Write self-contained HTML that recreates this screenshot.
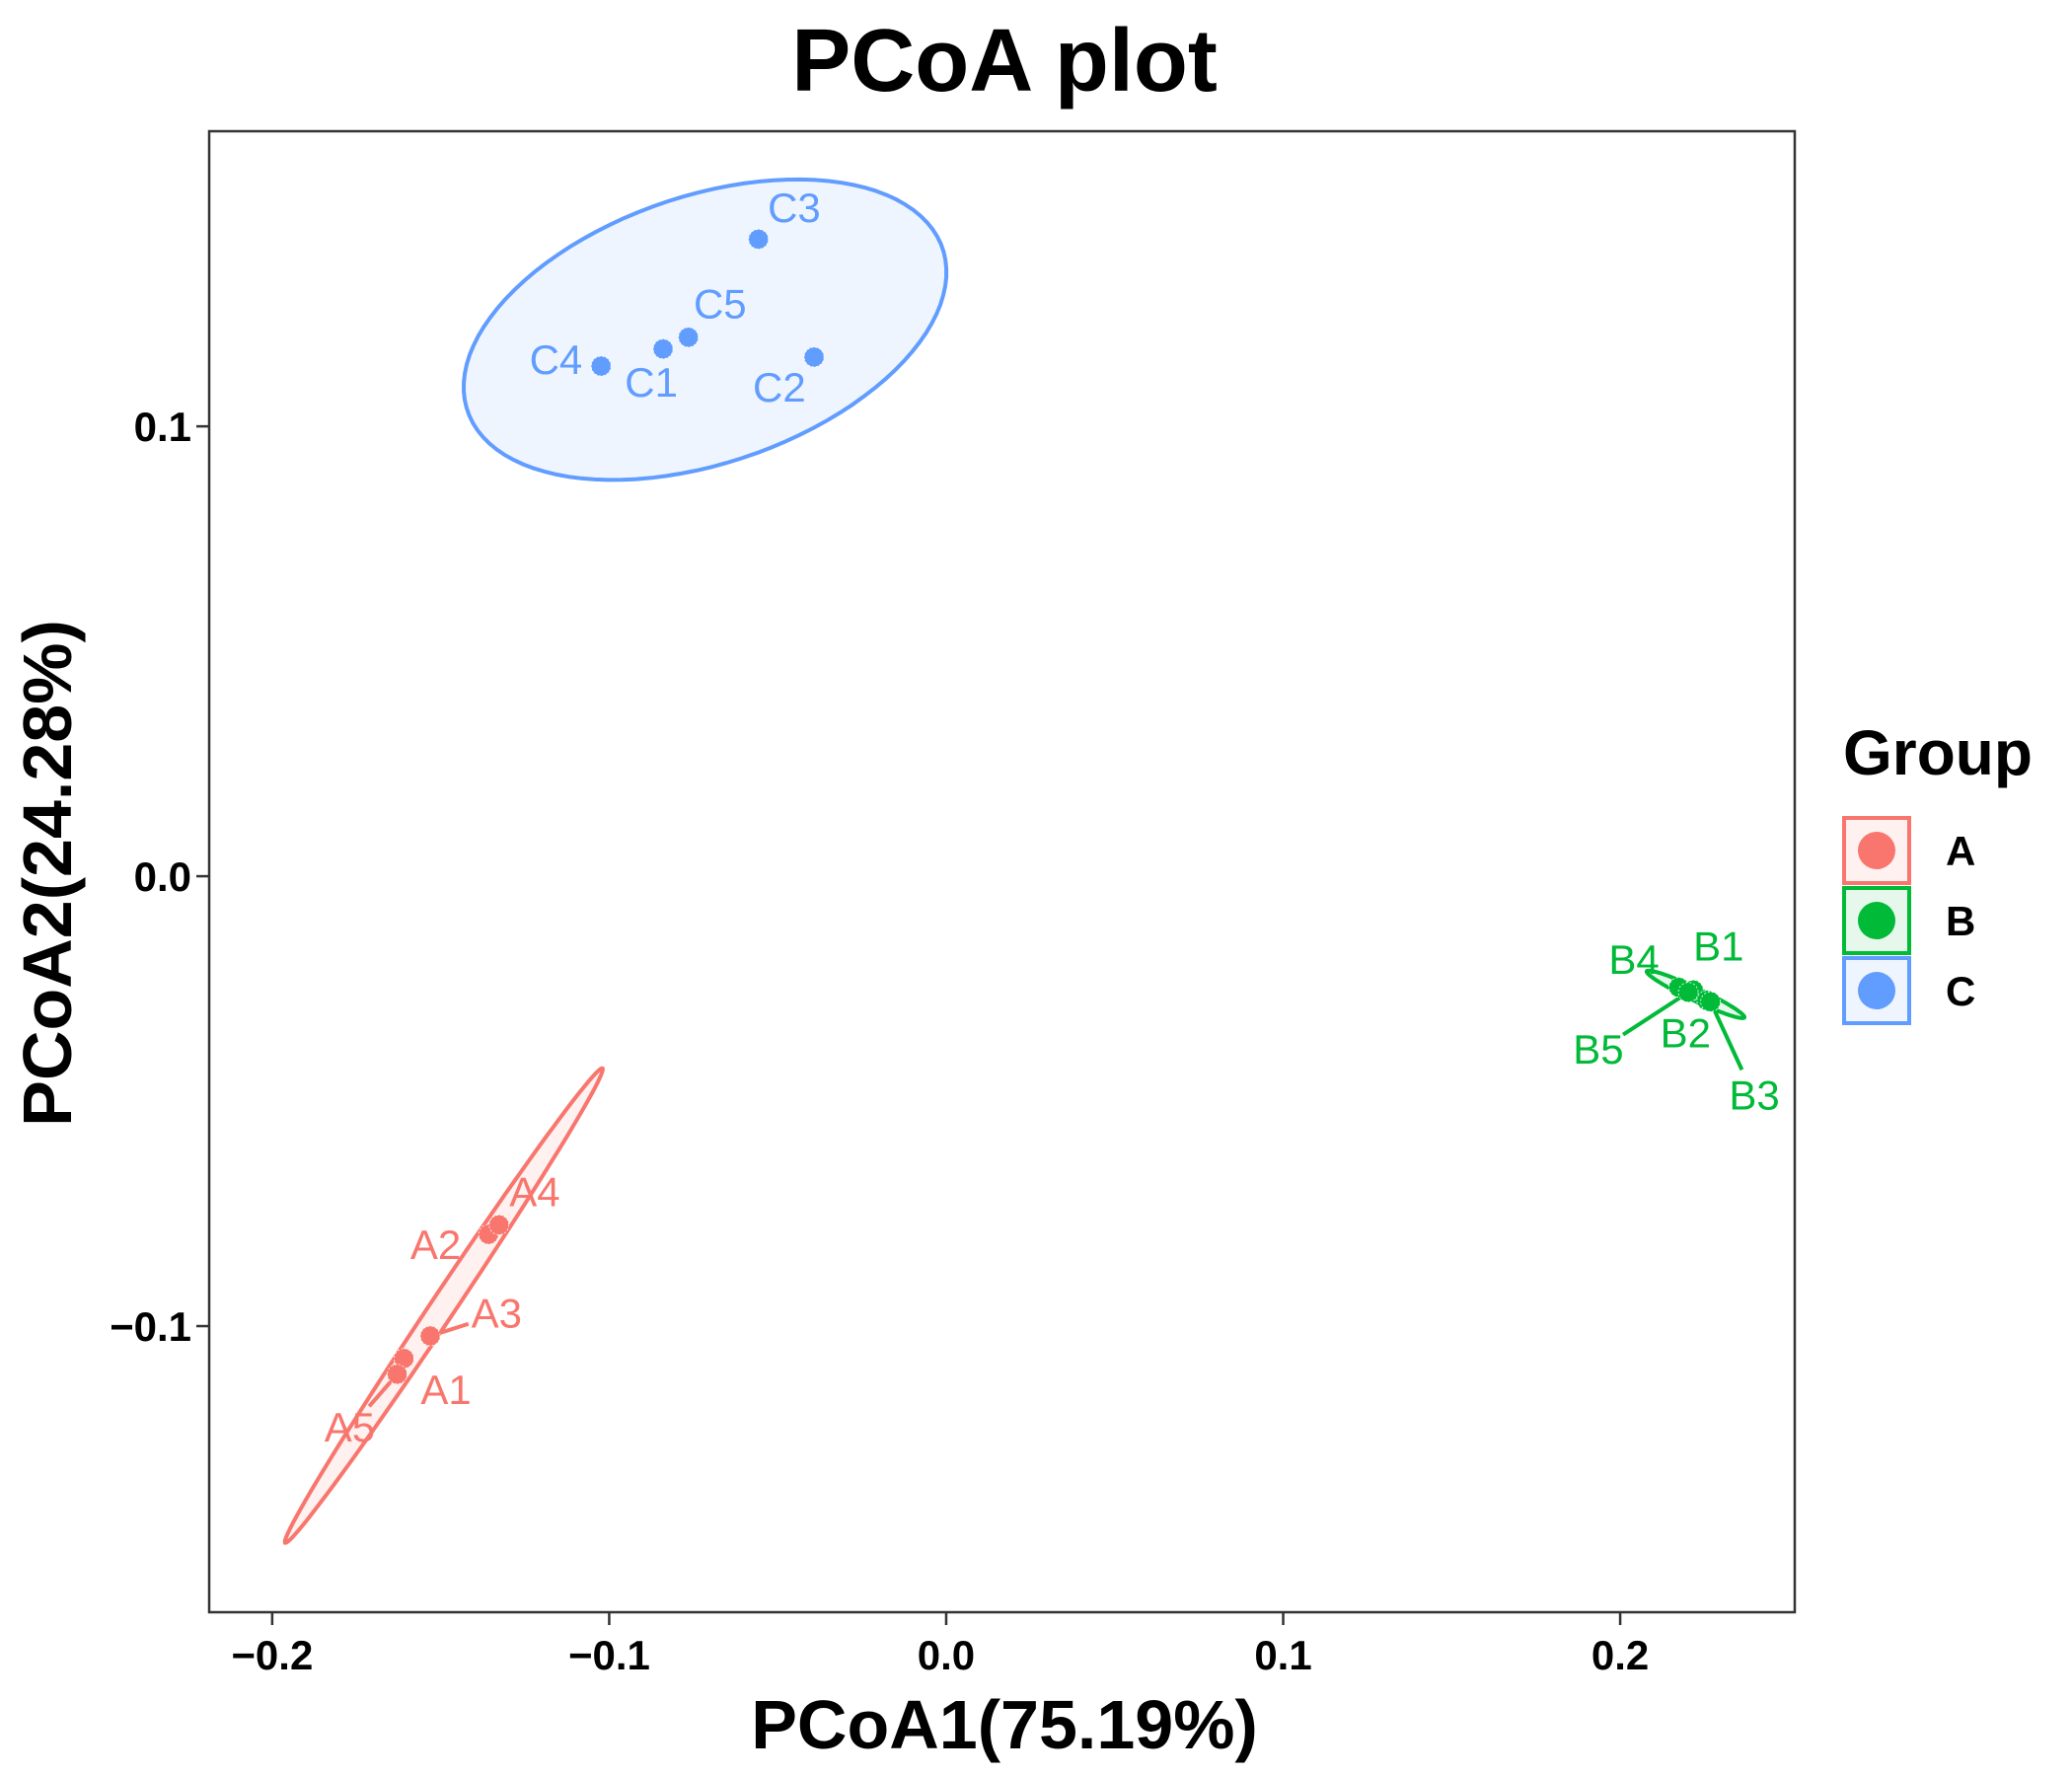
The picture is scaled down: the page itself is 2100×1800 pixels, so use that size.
<!DOCTYPE html>
<html><head><meta charset="utf-8"><style>
html,body{margin:0;padding:0;background:#fff;}
svg{display:block;font-family:"Liberation Sans",sans-serif;}
</style></head><body>
<svg id="chart" width="2100" height="1800" viewBox="0 0 2100 1800" xmlns="http://www.w3.org/2000/svg">
<rect width="2100" height="1800" fill="#fff"/>
<text x="1018" y="92" text-anchor="middle" font-size="90" font-weight="bold">PCoA plot</text>
<g id="plot"></g>
<text x="1018" y="1772" text-anchor="middle" font-size="70" font-weight="bold">PCoA1(75.19%)</text>
<text transform="translate(72,885) rotate(-90)" text-anchor="middle" font-size="70" font-weight="bold">PCoA2(24.28%)</text>
<g>
<text x="1868" y="785" font-size="64" font-weight="bold">Group</text>
<g><rect x="1869" y="829" width="66" height="66" fill="#F8766D" fill-opacity="0.1" stroke="#F8766D" stroke-width="4"/><circle cx="1902" cy="862" r="19" fill="#F8766D"/><text x="1972" y="877" font-size="42" font-weight="bold">A</text></g>
<g><rect x="1869" y="900" width="66" height="66" fill="#00BA38" fill-opacity="0.1" stroke="#00BA38" stroke-width="4"/><circle cx="1902" cy="933" r="19" fill="#00BA38"/><text x="1972" y="948" font-size="42" font-weight="bold">B</text></g>
<g><rect x="1869" y="971" width="66" height="66" fill="#619CFF" fill-opacity="0.1" stroke="#619CFF" stroke-width="4"/><circle cx="1902" cy="1004" r="19" fill="#619CFF"/><text x="1972" y="1019" font-size="42" font-weight="bold">C</text></g>
</g>
</svg>
<script>
const sampleNames = ["A1","A2","A3","A4","A5","B1","B2","B3","B4","B5","C1","C2","C3","C4","C5"];
const sampleGroups = ["A","A","A","A","A","B","B","B","B","B","C","C","C","C","C"];
const pc1Values = [-0.1609,-0.1358,-0.1531,-0.1327,-0.1629,0.2217,0.2257,0.2268,0.2174,0.2202,-0.0840,-0.0392,-0.0557,-0.1024,-0.0765];
const pc2Values = [-0.1072,-0.0796,-0.1022,-0.0775,-0.1107,-0.0253,-0.0276,-0.0279,-0.0247,-0.0258,0.1172,0.1154,0.1416,0.1134,0.1198];
const labelPc1 = [-0.1484,-0.1515,-0.1334,-0.1221,-0.1770,0.2292,0.2194,0.2398,0.2041,0.1935,-0.0875,-0.0495,-0.0451,-0.1158,-0.0671];
const labelPc2 = [-0.1145,-0.0822,-0.0975,-0.0705,-0.1228,-0.0159,-0.0352,-0.0490,-0.0188,-0.0388,0.1095,0.1084,0.1483,0.1145,0.1269];
const groupNames = ["A","B","C"];
const xTicks = [-0.2,-0.1,0.0,0.1,0.2];
const yTicks = [-0.1,0.0,0.1];
const xTickLabels = ["\u22120.2","\u22120.1","0.0","0.1","0.2"];
const yTickLabels = ["\u22120.1","0.0","0.1"];

const colors = {A:"#F8766D",B:"#00BA38",C:"#619CFF"};
const radiusScale = {A:0.9,B:1.0,C:0.78};
const PL=212, PR=1819, PT=133, PB=1634;
const xMin=-0.2187, xMax=0.2518, yMin=-0.1636, yMax=0.1656;
const sx = v => PL + (v - xMin) / (xMax - xMin) * (PR - PL);
const sy = v => PB - (v - yMin) / (yMax - yMin) * (PB - PT);
const NS="http://www.w3.org/2000/svg";
const plot=document.getElementById('plot');
function mk(tag, attrs, parent){const e=document.createElementNS(NS,tag);for(const k in attrs)e.setAttribute(k,attrs[k]);(parent||plot).appendChild(e);return e;}

const clip=mk('clipPath',{id:'pc'});mk('rect',{x:PL,y:PT,width:PR-PL,height:PB-PT},clip);

const R=Math.sqrt(2*6.944);
groupNames.forEach(g=>{
  const xs=[],ys=[];
  sampleGroups.forEach((s,i)=>{if(s===g){xs.push(pc1Values[i]);ys.push(pc2Values[i]);}});
  const n=xs.length, mx=xs.reduce((a,b)=>a+b)/n, my=ys.reduce((a,b)=>a+b)/n;
  let a=0,b=0,c=0;
  for(let i=0;i<n;i++){const dx=xs[i]-mx,dy=ys[i]-my;a+=dx*dx;b+=dx*dy;c+=dy*dy;}
  a/=n-1;b/=n-1;c/=n-1;
  const tr=(a+c)/2, det=Math.sqrt(((a-c)/2)**2+b*b);
  const l1=tr+det, l2=Math.max(tr-det,1e-12);
  const th=Math.atan2(l1-a,b||1e-12);
  const rr=R*radiusScale[g];
  let d="";
  for(let k=0;k<=100;k++){
    const t=k/100*2*Math.PI;
    const u=rr*Math.sqrt(l1)*Math.cos(t), v=rr*Math.sqrt(l2)*Math.sin(t);
    const px=mx+u*Math.cos(th)-v*Math.sin(th), py=my+u*Math.sin(th)+v*Math.cos(th);
    d+=(k?"L":"M")+sx(px).toFixed(1)+","+sy(py).toFixed(1);
  }
  const e=mk('path',{d:d+"Z",fill:colors[g],'fill-opacity':0.1,stroke:colors[g],'stroke-width':4,'clip-path':'url(#pc)'});
  
  
});

sampleNames.forEach((nm,i)=>{
  const x1=sx(pc1Values[i]),y1=sy(pc2Values[i]),x2=sx(labelPc1[i]),y2=sy(labelPc2[i]);
  const dist=Math.hypot(x2-x1,y2-y1);
  if(dist>60){
    const f=(dist-30)/dist;
    const l=mk('line',{x1:x1,y1:y1,x2:x1+(x2-x1)*f,y2:y1+(y2-y1)*f,stroke:colors[sampleGroups[i]],'stroke-width':4});
    
    
  }
});

sampleNames.forEach((nm,i)=>{
  const c=mk('circle',{cx:sx(pc1Values[i]),cy:sy(pc2Values[i]),r:10,fill:colors[sampleGroups[i]],stroke:'#fff','stroke-width':0.8,'stroke-dasharray':'2 2'});
  
  
});
sampleNames.forEach((nm,i)=>{
  const t=mk('text',{x:sx(labelPc1[i]),y:sy(labelPc2[i])+13,'text-anchor':'middle','font-size':42,fill:colors[sampleGroups[i]]});
  t.textContent=nm;
  
  
});

const border=mk('rect',{x:PL,y:PT,width:PR-PL,height:PB-PT,fill:'none',stroke:'#333','stroke-width':2.5});



xTicks.forEach((v,i)=>{
  const tk=mk('line',{x1:sx(v),x2:sx(v),y1:PB,y2:PB+13,stroke:'#333','stroke-width':2.5});
  
  
  const t=mk('text',{x:sx(v),y:PB+58,'text-anchor':'middle','font-size':42,'font-weight':'bold'});
  t.textContent=xTickLabels[i];
  
  
});
yTicks.forEach((v,i)=>{
  const tk=mk('line',{x1:PL-13,x2:PL,y1:sy(v),y2:sy(v),stroke:'#333','stroke-width':2.5});
  
  
  const t=mk('text',{x:PL-18,y:sy(v)+15,'text-anchor':'end','font-size':42,'font-weight':'bold'});
  t.textContent=yTickLabels[i];
  
  
});
</script>
</body></html>
